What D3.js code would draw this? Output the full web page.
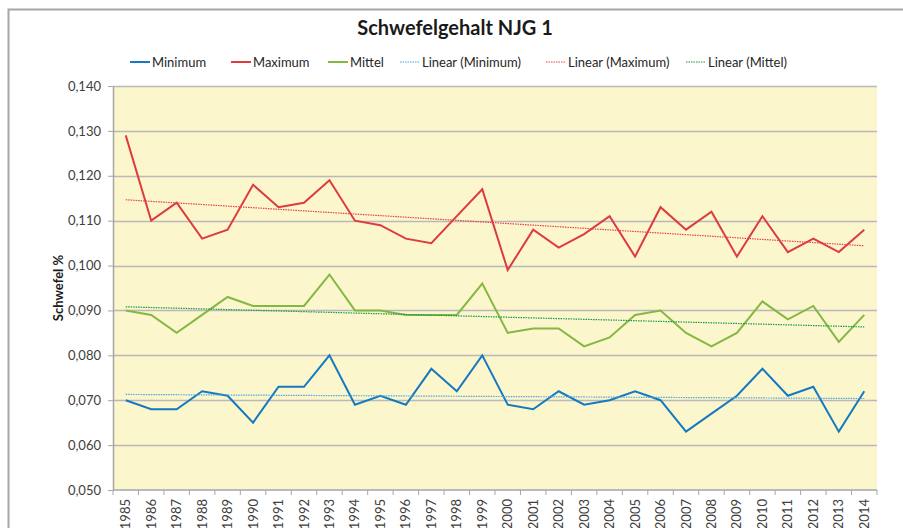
<!DOCTYPE html>
<html>
<head>
<meta charset="utf-8">
<script src="https://cdn.jsdelivr.net/npm/d3@7"></script>
<style>
  html, body { margin: 0; padding: 0; background: #ffffff; }
  svg { display: block; font-family: Lato, "Open Sans", sans-serif; }
</style>
</head>
<body>
<svg id="chart" width="903" height="528"></svg>
<script>
// Jahre der Messreihe
const years = [1985, 1986, 1987, 1988, 1989, 1990, 1991, 1992, 1993, 1994,
               1995, 1996, 1997, 1998, 1999, 2000, 2001, 2002, 2003, 2004,
               2005, 2006, 2007, 2008, 2009, 2010, 2011, 2012, 2013, 2014];

// Schwefelgehalt in %
const minimum = [0.070, 0.068, 0.068, 0.072, 0.071, 0.065, 0.073, 0.073, 0.080, 0.069,
                 0.071, 0.069, 0.077, 0.072, 0.080, 0.069, 0.068, 0.072, 0.069, 0.070,
                 0.072, 0.070, 0.063, 0.067, 0.071, 0.077, 0.071, 0.073, 0.063, 0.072];
const maximum = [0.129, 0.110, 0.114, 0.106, 0.108, 0.118, 0.113, 0.114, 0.119, 0.110,
                 0.109, 0.106, 0.105, 0.111, 0.117, 0.099, 0.108, 0.104, 0.107, 0.111,
                 0.102, 0.113, 0.108, 0.112, 0.102, 0.111, 0.103, 0.106, 0.103, 0.108];
const mittel  = [0.090, 0.089, 0.085, 0.089, 0.093, 0.091, 0.091, 0.091, 0.098, 0.090,
                 0.090, 0.089, 0.089, 0.089, 0.096, 0.085, 0.086, 0.086, 0.082, 0.084,
                 0.089, 0.090, 0.085, 0.082, 0.085, 0.092, 0.088, 0.091, 0.083, 0.089];

const yTicks = [0.050, 0.060, 0.070, 0.080, 0.090, 0.100, 0.110, 0.120, 0.130, 0.140];

const titleText = "Schwefelgehalt NJG 1";
const yTitle = "Schwefel %";

const series = [
  { name: "Minimum", values: minimum, color: "#1479c0", trendColor: "#4ea6de" },
  { name: "Maximum", values: maximum, color: "#dd3b3d", trendColor: "#e8404a" },
  { name: "Mittel",  values: mittel,  color: "#84b843", trendColor: "#139a4a" }
];

// Least-squares trend line over the year index (Excel "Linear" trendline)
function linearFit(vals) {
  const n = vals.length;
  const xs = d3.range(n);
  const mx = d3.mean(xs), my = d3.mean(vals);
  let sxy = 0, sxx = 0;
  xs.forEach((x, i) => { sxy += (x - mx) * (vals[i] - my); sxx += (x - mx) * (x - mx); });
  const b = sxy / sxx, a = my - b * mx;
  return xs.map(x => a + b * x);
}

const svg = d3.select("#chart");
const plot = { left: 113, right: 877, top: 86, bottom: 490 };

// Chart frame
svg.append("rect")
  .attr("x", 8.5).attr("y", 9.5)
  .attr("width", 1000).attr("height", 1000)
  .attr("fill", "#ffffff")
  .attr("stroke", "#a6a6a6").attr("stroke-width", 2);

const x = d3.scaleBand().domain(years).range([plot.left, plot.right]).padding(0);
const y = d3.scaleLinear().domain([0.05, 0.14]).range([plot.bottom, plot.top]);
const cx = yr => x(yr) + x.bandwidth() / 2;

// Plot area background
svg.append("rect")
  .attr("x", plot.left).attr("y", plot.top)
  .attr("width", plot.right - plot.left).attr("height", plot.bottom - plot.top)
  .attr("fill", "#fcf6cd");

// Horizontal gridlines
svg.append("g")
  .selectAll("line")
  .data(yTicks.filter(t => t > 0.05))
  .join("line")
  .attr("x1", plot.left).attr("x2", plot.right)
  .attr("y1", d => Math.round(y(d)) + 0.5).attr("y2", d => Math.round(y(d)) + 0.5)
  .attr("stroke", "#b9b9b9").attr("stroke-width", 1.5);

// Y axis
const fmt = d => d3.format(".3f")(d).replace(".", ",");
const yAxis = svg.append("g")
  .attr("transform", `translate(${plot.left},0)`)
  .call(d3.axisLeft(y).tickValues(yTicks).tickFormat(fmt).tickSizeOuter(0).tickSizeInner(5).tickPadding(7));
yAxis.select(".domain").attr("stroke", "#a6a6a6").attr("stroke-width", 1.5);
yAxis.selectAll(".tick line").attr("stroke", "#a6a6a6");
yAxis.selectAll(".tick text").attr("fill", "#404040").attr("font-size", 13).attr("font-family", "Lato");

// X axis: ticks sit on category boundaries
const xAxisG = svg.append("g").attr("transform", `translate(0,${plot.bottom})`);
xAxisG.append("line")
  .attr("x1", plot.left).attr("x2", plot.right)
  .attr("stroke", "#a6a6a6").attr("stroke-width", 1.5);
xAxisG.selectAll("line.tk")
  .data(years.concat([null]))
  .join("line").attr("class", "tk")
  .attr("x1", (d, i) => plot.left + i * x.bandwidth())
  .attr("x2", (d, i) => plot.left + i * x.bandwidth())
  .attr("y1", 0).attr("y2", 5)
  .attr("stroke", "#a6a6a6");
xAxisG.selectAll("text")
  .data(years)
  .join("text")
  .attr("transform", d => `translate(${cx(d)},9) rotate(-90)`)
  .attr("text-anchor", "end")
  .attr("dy", "0.35em")
  .attr("fill", "#404040")
  .attr("font-size", 13)
  .text(d => d);

// Data lines
const line = d3.line().x((d, i) => cx(years[i])).y(d => y(d));
series.forEach(s => {
  svg.append("path")
    .datum(s.values)
    .attr("d", line)
    .attr("fill", "none")
    .attr("stroke", s.color)
    .attr("stroke-width", 2)
    .attr("stroke-linejoin", "miter");
});

// Trend lines (dotted)
series.forEach(s => {
  svg.append("path")
    .datum(linearFit(s.values))
    .attr("d", line)
    .attr("fill", "none")
    .attr("stroke", s.trendColor)
    .attr("stroke-width", 1.2)
    .attr("stroke-dasharray", "1.5,1");
});

// Title
svg.append("text")
  .attr("x", 455).attr("y", 35)
  .attr("text-anchor", "middle")
  .attr("font-size", 20).attr("font-weight", "bold")
  .attr("fill", "#1a1a1a")
  .text(titleText);

// Y axis title
svg.append("text")
  .attr("transform", `translate(58,${(plot.top + plot.bottom) / 2}) rotate(-90)`)
  .attr("text-anchor", "middle")
  .attr("dy", "0.35em")
  .attr("font-size", 13).attr("font-weight", "bold")
  .attr("fill", "#1a1a1a")
  .text(yTitle);

// Legend
const legendItems = [
  { label: "Minimum", color: series[0].color, dotted: false, x: 130 },
  { label: "Maximum", color: series[1].color, dotted: false, x: 231 },
  { label: "Mittel", color: series[2].color, dotted: false, x: 328 },
  { label: "Linear (Minimum)", color: series[0].trendColor, dotted: true, x: 400 },
  { label: "Linear (Maximum)", color: series[1].trendColor, dotted: true, x: 546 },
  { label: "Linear (Mittel)", color: series[2].trendColor, dotted: true, x: 686 }
];
const legend = svg.append("g").attr("transform", "translate(0,62)");
const li = legend.selectAll("g").data(legendItems).join("g")
  .attr("transform", d => `translate(${d.x},0)`);
li.append("line")
  .attr("x1", 0).attr("x2", 20).attr("y1", 0).attr("y2", 0)
  .attr("stroke", d => d.color)
  .attr("stroke-width", d => d.dotted ? 1.2 : 2)
  .attr("stroke-dasharray", d => d.dotted ? "1.5,1" : null);
li.append("text")
  .attr("x", 22).attr("dy", "0.35em")
  .attr("font-size", 13)
  .attr("fill", "#262626")
  .text(d => d.label);
</script>
</body>
</html>
